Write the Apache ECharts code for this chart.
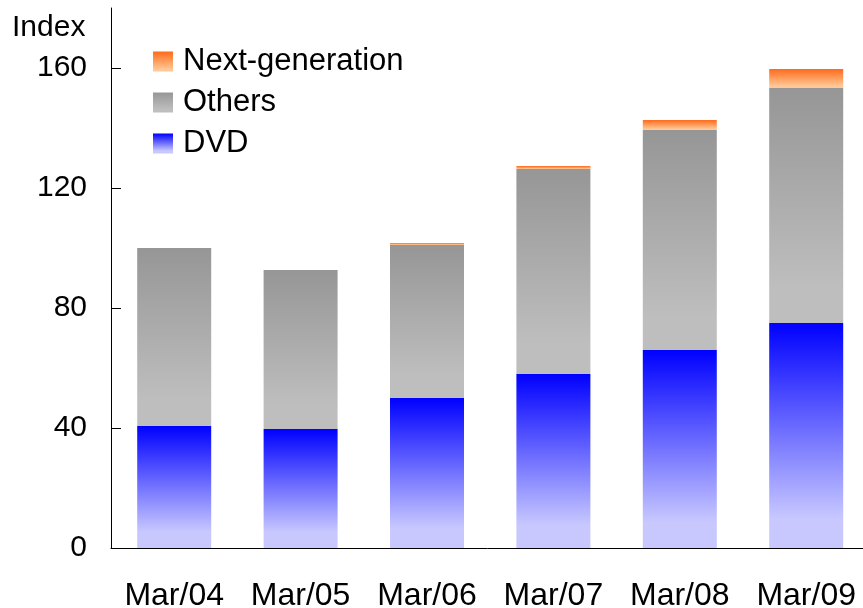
<!DOCTYPE html>
<html>
<head>
<meta charset="utf-8">
<script src="https://cdn.jsdelivr.net/npm/echarts@6/dist/echarts.min.js"></script>
<style>
  html, body { margin: 0; padding: 0; background: #fff; overflow: hidden; }
  #chart { width: 863px; height: 608px; }
</style>
</head>
<body>
<div id="chart"></div>
<script>
// Fiscal year-end periods
const categories = ['Mar/04', 'Mar/05', 'Mar/06', 'Mar/07', 'Mar/08', 'Mar/09'];
// Stacked segment sizes (index, Mar/04 total = 100)
const dvd = [40.7, 39.7, 50, 58, 66, 75];
const others = [59.3, 53.0, 51.0, 68.3, 73.3, 78.3];
const nextGen = [0, 0, 0.7, 1.0, 3.4, 6.4];
// Labelled ticks on the value axis
const yTicks = [0, 40, 80, 120, 160];

const FONT = 'Liberation Sans, Arial, sans-serif';

function vGrad(top, bottom, stop) {
  return new echarts.graphic.LinearGradient(0, 0, 0, 1, [
    { offset: 0, color: top },
    { offset: stop, color: bottom },
    { offset: 1, color: bottom }
  ]);
}

const chart = echarts.init(document.getElementById('chart'), null, { renderer: 'canvas' });

chart.setOption({
  animation: false,
  backgroundColor: '#ffffff',
  textStyle: { fontFamily: FONT, color: '#000' },
  // plot area runs slightly past the right edge of the canvas
  grid: { left: 111, top: 8, width: 758.4, height: 540, containLabel: false, outerBoundsMode: 'none' },
  legend: {
    orient: 'vertical',
    left: 153,
    top: 46,
    padding: 0,
    itemWidth: 20,
    itemHeight: 20,
    itemGap: 10,
    icon: 'rect',
    data: ['Next-generation', 'Others', 'DVD'],
    textStyle: { fontFamily: FONT, fontSize: 31, lineHeight: 30, color: '#000', padding: [0, 0, 0, 5] },
    selectedMode: false
  },
  graphic: [{
    type: 'text',
    left: 12,
    top: 13,
    style: { text: 'Index', font: '30px ' + FONT, fill: '#000' }
  }],
  xAxis: {
    type: 'category',
    data: categories,
    boundaryGap: true,
    axisLine: { lineStyle: { color: '#000', width: 1 } },
    axisTick: { inside: true, length: 10, lineStyle: { color: '#000' } },
    axisLabel: { fontSize: 32, color: '#000', margin: 32, interval: 0, fontFamily: FONT },
    splitLine: { show: false }
  },
  yAxis: {
    type: 'value',
    min: 0,
    max: 180,
    interval: 20,
    axisLine: { show: true, lineStyle: { color: '#000', width: 1 } },
    axisTick: { show: true, inside: true, length: 10, lineStyle: { color: '#000' }, customValues: yTicks },
    axisLabel: { fontSize: 30, color: '#000', margin: 24, fontFamily: FONT, customValues: yTicks },
    splitLine: { show: false }
  },
  series: [
    {
      name: 'DVD',
      type: 'bar',
      stack: 'total',
      barWidth: 74,
      data: dvd,
      itemStyle: { color: vGrad('#0000ff', '#c8c8ff', 0.87) }
    },
    {
      name: 'Others',
      type: 'bar',
      stack: 'total',
      barWidth: 74,
      data: others,
      itemStyle: { color: vGrad('#969696', '#bebebe', 0.85) }
    },
    {
      name: 'Next-generation',
      type: 'bar',
      stack: 'total',
      barWidth: 74,
      data: nextGen,
      itemStyle: { color: vGrad('#ff6a1a', '#ffc896', 0.9) }
    }
  ]
});
</script>
</body>
</html>
